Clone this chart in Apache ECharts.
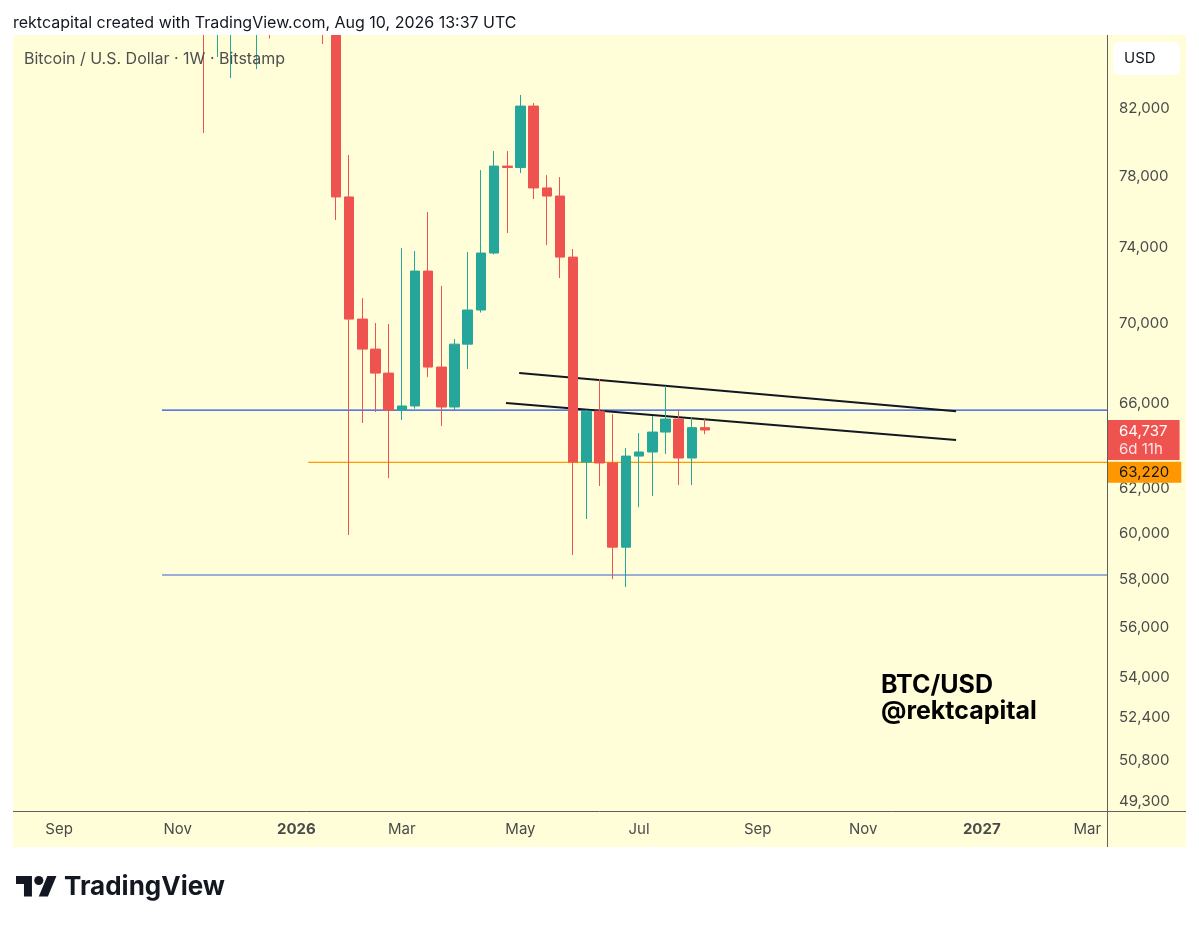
<!DOCTYPE html>
<html>
<head>
<meta charset="utf-8">
<title>BTC/USD 1W</title>
<script src="https://cdn.jsdelivr.net/npm/echarts@6.0.0/dist/echarts.min.js"></script>
<style>
  html, body { margin: 0; padding: 0; background: #ffffff; }
  #chart { width: 1199px; height: 927px; }
</style>
</head>
<body>
<div id="chart"></div>
<script>
// Weekly bars, first bar = week of 2025-08-11 (Monday), chart runs on into empty future weeks
const firstWeekUTC = Date.UTC(2025, 7, 11);
const weekCount = 83;
const weeks = [];
for (let i = 0; i < weekCount; i++) {
    weeks.push(new Date(firstWeekUTC + i * 7 * 86400000).toISOString().slice(0, 10));
}

// OHLC (bars above the top edge are estimates, they are clipped anyway)
const opens = [119300, 117400, 113500, 108200, 111100, 115300, 115200, 112100, 123500, 115200,
    108600, 114500, 110500, 104700, 94200, 86800, 90400, 90600, 88400, 88600,
    87800, 90600, 90500, 95100, 88300, 76820, 70230, 68700, 67500, 65690,
    65890, 72750, 67800, 65840, 68950, 70700, 73720, 78580, 78500, 82120,
    77330, 76870, 73500, 63230, 65640, 63190, 59400, 63510, 63700, 64640,
    65260, 63420, 64850];
const closes = [117400, 113500, 108200, 111100, 115300, 115200, 112100, 123500, 115200, 108600,
    114500, 110500, 104700, 94200, 86800, 90400, 90600, 88400, 88600, 87800,
    90600, 90500, 95100, 88300, 76820, 70230, 68700, 67500, 65690, 65890,
    72750, 67800, 65840, 68950, 70700, 73720, 78580, 78500, 82120, 77330,
    76870, 73500, 63230, 65640, 63190, 59400, 63510, 63700, 64640, 65260,
    63420, 64850, 64737];
const lows = [116800, 110600, 107300, 107300, 110600, 114700, 108600, 111500, 104800, 103500,
    106700, 106300, 98900, 93000, 80510, 85130, 83830, 87600, 84380, 86300,
    87200, 89300, 90000, 85950, 75530, 59930, 65070, 65600, 62490, 65210,
    65760, 67300, 64930, 65690, 67700, 70570, 73650, 74810, 78180, 76700,
    74150, 72380, 59060, 60640, 62130, 58020, 57690, 61170, 61670, 63610,
    62170, 62170, 64540];
const highs = [124500, 117600, 113600, 113400, 116700, 117900, 115400, 125700, 126200, 116000,
    116000, 116400, 110700, 107500, 96600, 93100, 94100, 94600, 90400, 90000,
    91000, 94800, 97900, 96000, 90500, 79220, 71320, 70030, 69980, 73990,
    73830, 75970, 71960, 69210, 73770, 78350, 79450, 79450, 82790, 82300,
    78060, 77950, 73940, 65700, 67210, 65500, 63890, 64590, 65400, 66860,
    65640, 65350, 65260];

// price scale (log) and its labels
const priceMin = 48940;
const priceMax = 86520;
const priceTicks = [49300, 50800, 52400, 54000, 56000, 58000, 60000, 62000, 66000, 70000, 74000, 78000, 82000];

// drawings, x in bar units (0 = first week)
const blueLevels = [65690, 58200];
const blueStart = 10.8;
const orangeLevel = 63220;
const orangeStart = 21.9;
const upperTrend = [[37.9, 67500], [71.05, 65640]];
const lowerTrend = [[36.9, 66030], [71.05, 64260]];
const countdown = '6d 11h';

const monthNames = ['Jan', 'Feb', 'Mar', 'Apr', 'May', 'Jun', 'Jul', 'Aug', 'Sep', 'Oct', 'Nov', 'Dec'];
const FONT = 'Inter, "Noto Sans", sans-serif';
const TEXT = '#131722';
const AXIS_TEXT = '#4a4a4a';
const UP = '#26a69a';
const DOWN = '#ef5350';

const fmt = v => Math.round(v).toLocaleString('en-US');

function isLabelWeek(day) {
    const d = new Date(day + 'T00:00:00Z');
    return d.getUTCDate() <= 7 && d.getUTCMonth() % 2 === 0;
}

const candles = opens.map((o, i) => [o, closes[i], lows[i], highs[i]]);
const lastBar = closes.length - 1;
const lastPrice = closes[lastBar];
const rightEdge = weekCount - 0.5;

function levelSeries(name, start, price, color, width) {
    return {
        name: name,
        type: 'line',
        xAxisIndex: 1,
        yAxisIndex: 0,
        data: [[start, price], [rightEdge, price]],
        symbol: 'none',
        silent: true,
        z: 1,
        lineStyle: { color: color, width: width }
    };
}

function trendSeries(name, points) {
    return {
        name: name,
        type: 'line',
        xAxisIndex: 1,
        yAxisIndex: 0,
        data: points,
        symbol: 'none',
        silent: true,
        z: 1,
        lineStyle: { color: TEXT, width: 2 }
    };
}

const series = [
    levelSeries('Level 1', blueStart, blueLevels[0], '#1f4fe0', 1.2),
    levelSeries('Level 2', blueStart, blueLevels[1], '#3560d8', 1.2),
    Object.assign(levelSeries('Level 3', orangeStart, orangeLevel, '#ff9800', 1.2), {
        markPoint: {
            silent: true,
            symbol: 'circle',
            symbolSize: 0,
            data: [{ coord: [rightEdge, orangeLevel] }],
            label: {
                show: true,
                position: 'right',
                distance: 0,
                offset: [0, 10],
                formatter: () => fmt(orangeLevel),
                backgroundColor: '#ff9800',
                color: TEXT,
                fontFamily: FONT,
                fontSize: 15,
                lineHeight: 17,
                padding: [2, 12, 2, 12]
            }
        }
    }),
    trendSeries('Upper trendline', upperTrend),
    trendSeries('Lower trendline', lowerTrend),
    {
        name: 'Last price',
        type: 'line',
        xAxisIndex: 1,
        yAxisIndex: 0,
        data: [[lastBar, lastPrice], [rightEdge, lastPrice]],
        symbol: 'none',
        silent: true,
        z: 1,
        lineStyle: { width: 0, color: 'rgba(0,0,0,0)' },
        markPoint: {
            silent: true,
            symbol: 'circle',
            symbolSize: 0,
            data: [{ coord: [rightEdge, lastPrice] }],
            label: {
                show: true,
                position: 'right',
                distance: 0,
                offset: [0, 10],
                formatter: () => '{a|' + fmt(lastPrice) + '}\n{b|' + countdown + '}',
                backgroundColor: DOWN,
                padding: [2, 12, 2, 12],
                rich: {
                    a: { color: '#ffffff', fontFamily: FONT, fontSize: 15, lineHeight: 18 },
                    b: { color: '#fde3e3', fontFamily: FONT, fontSize: 15, lineHeight: 18 }
                }
            }
        }
    },
    {
        name: 'BTCUSD',
        type: 'candlestick',
        xAxisIndex: 0,
        yAxisIndex: 0,
        data: candles,
        barWidth: 10,
        z: 2,
        clip: true,
        itemStyle: {
            color: UP,
            color0: DOWN,
            borderColor: UP,
            borderColor0: DOWN,
            borderWidth: 1
        }
    }
];

// TradingView mark, drawn in its own 36x28 units and scaled into place
const logoScale = 20.5 / 18;
const graphics = [
    { type: 'rect', z: -10, silent: true, shape: { x: 13, y: 35, width: 1173, height: 812 }, style: { fill: '#fffed9' } },
    // candles running past the top of the pane are cut off by the header strip
    { type: 'rect', z: 10, silent: true, shape: { x: 0, y: 0, width: 1199, height: 35 }, style: { fill: '#ffffff' } },
    { type: 'line', z: 10, silent: true, shape: { x1: 1107.5, y1: 35, x2: 1107.5, y2: 847 }, style: { stroke: '#5f5f5f', lineWidth: 1 } },
    { type: 'line', z: 10, silent: true, shape: { x1: 13, y1: 811.5, x2: 1186, y2: 811.5 }, style: { stroke: '#5f5f5f', lineWidth: 1 } },
    { type: 'rect', z: 10, silent: true, shape: { x: 1113, y: 42, width: 67, height: 33, r: 6 }, style: { fill: '#ffffff' } },
    {
        type: 'text', z: 11, silent: true,
        style: { text: 'USD', x: 1124, y: 58.5, fill: TEXT, font: '15px ' + FONT, verticalAlign: 'middle', textVerticalAlign: 'middle' }
    },
    {
        type: 'text', z: 11, silent: true,
        style: { text: 'rektcapital created with TradingView.com, Aug 10, 2026 13:37 UTC', x: 13, y: 23, fill: TEXT, font: '16px ' + FONT, verticalAlign: 'middle', textVerticalAlign: 'middle' }
    },
    {
        type: 'text', z: 11, silent: true,
        style: { text: 'Bitcoin / U.S. Dollar \u00b7 1W \u00b7 Bitstamp', x: 24, y: 59, fill: '#4f4f4f', font: '16px ' + FONT, verticalAlign: 'middle', textVerticalAlign: 'middle' }
    },
    {
        type: 'text', z: 11, silent: true,
        style: { text: 'BTC/USD\n@rektcapital', x: 881, y: 672, fill: '#000000', font: 'bold 25px ' + FONT, lineHeight: 26, verticalAlign: 'top', textVerticalAlign: 'top' }
    },
    {
        type: 'group', z: 11, silent: true,
        x: 16, y: 876 - 4 * logoScale, scaleX: logoScale, scaleY: logoScale,
        children: [
            { type: 'polygon', shape: { points: [[14, 22], [7, 22], [7, 11], [0, 11], [0, 4], [14, 4]] }, style: { fill: TEXT } },
            { type: 'polygon', shape: { points: [[28, 22], [20, 22], [27.5, 4], [35.5, 4]] }, style: { fill: TEXT } },
            { type: 'circle', shape: { cx: 20, cy: 8, r: 4 }, style: { fill: TEXT } }
        ]
    },
    {
        type: 'text', z: 11, silent: true,
        style: { text: 'TradingView', x: 64, y: 887, fill: TEXT, font: 'bold 26px ' + FONT, verticalAlign: 'middle', textVerticalAlign: 'middle' }
    }
];

const chart = echarts.init(document.getElementById('chart'));

const option = {
    animation: false,
    backgroundColor: '#ffffff',
    grid: { left: 13, right: 92, top: 35, bottom: 116 },
    xAxis: [
        {
            type: 'category',
            data: weeks,
            boundaryGap: true,
            axisLine: { show: false },
            axisTick: { show: false },
            splitLine: { show: false },
            axisLabel: {
                interval: (idx, day) => isLabelWeek(day),
                formatter: day => {
                    const d = new Date(day + 'T00:00:00Z');
                    const m = d.getUTCMonth();
                    return m === 0 ? '{y|' + d.getUTCFullYear() + '}' : monthNames[m];
                },
                margin: 11,
                color: AXIS_TEXT,
                fontFamily: FONT,
                fontSize: 15,
                rich: {
                    y: { color: AXIS_TEXT, fontFamily: FONT, fontSize: 15, fontWeight: 'bold' }
                }
            }
        },
        {
            type: 'value',
            min: -0.5,
            max: rightEdge,
            show: false
        }
    ],
    yAxis: {
        type: 'log',
        logBase: 10,
        position: 'right',
        min: priceMin,
        max: priceMax,
        axisLine: { show: false },
        axisTick: { show: false },
        splitLine: { show: false },
        axisLabel: {
            customValues: priceTicks,
            formatter: v => fmt(v),
            margin: 12,
            color: AXIS_TEXT,
            fontFamily: FONT,
            fontSize: 15
        }
    },
    graphic: graphics,
    series: series
};

chart.setOption(option);

window.addEventListener('resize', function() {
    chart.resize();
});
</script>
</body>
</html>
